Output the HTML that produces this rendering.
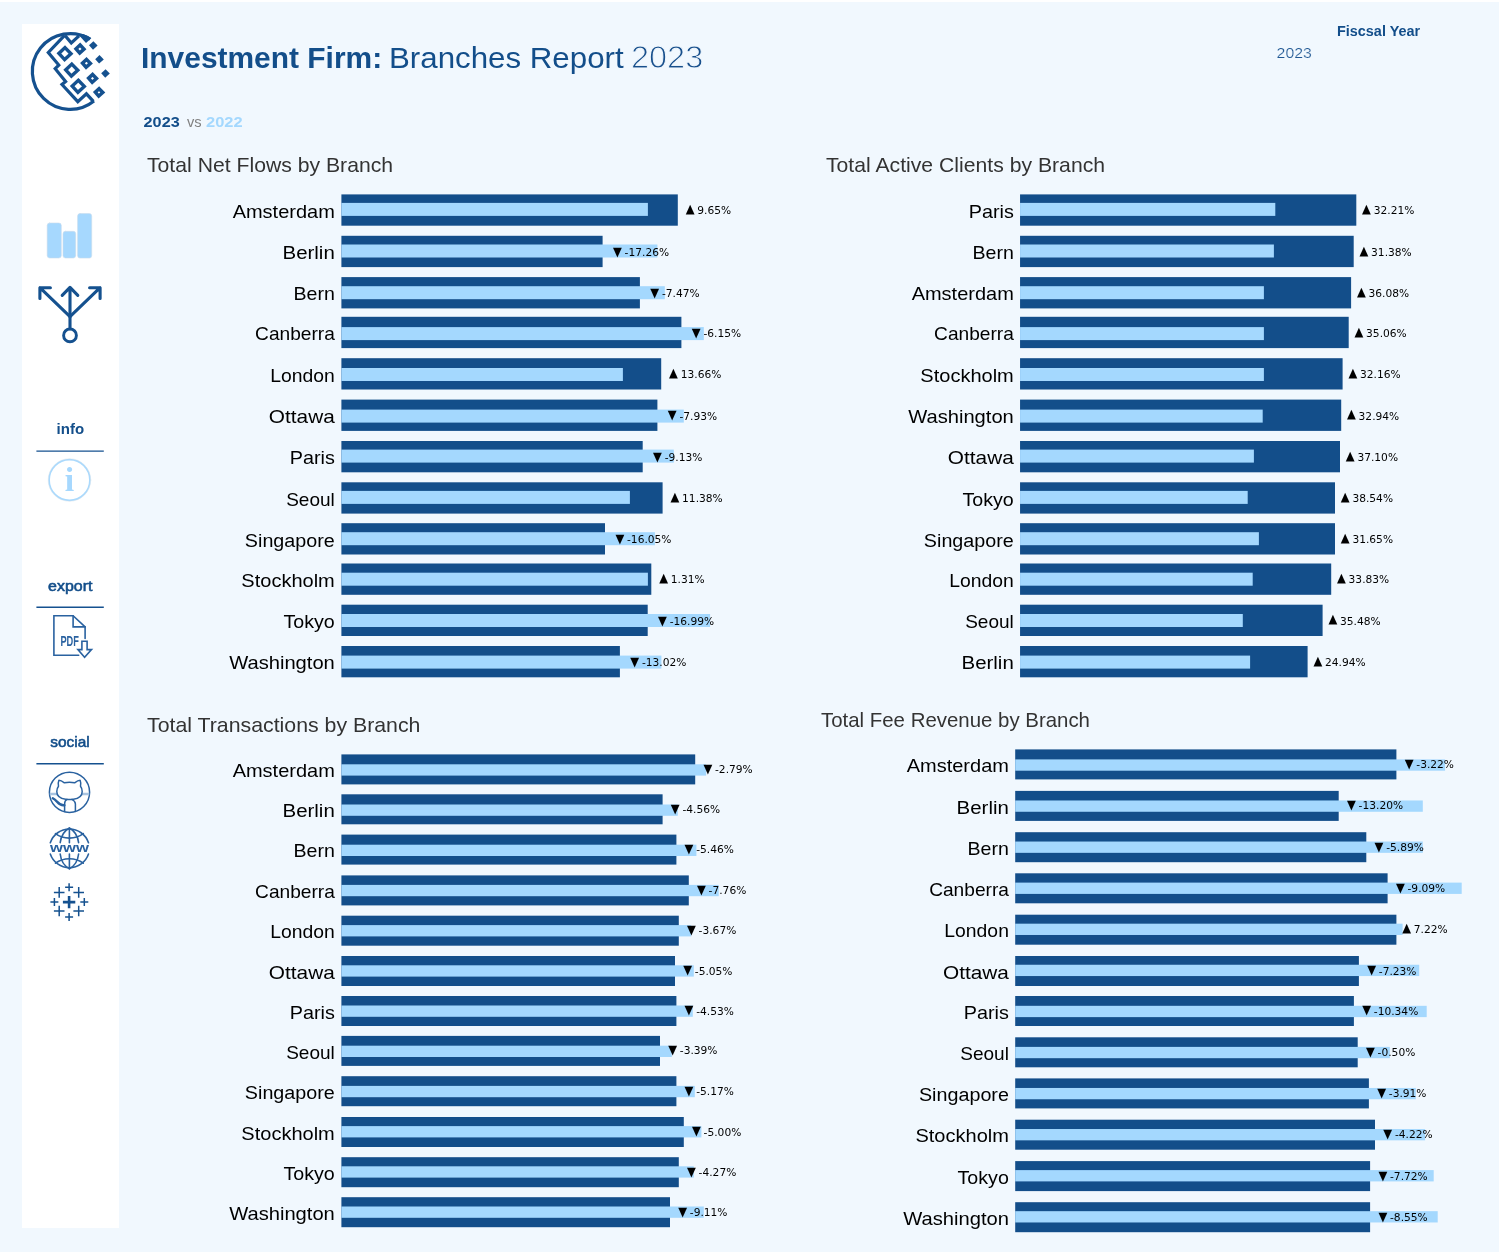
<!DOCTYPE html>
<html lang="en">
<head>
<meta charset="utf-8">
<title>Investment Firm: Branches Report 2023</title>
<style>
*{box-sizing:border-box;margin:0;padding:0}
html,body{width:1505px;height:1253px;background:#fff;overflow:hidden}
body{position:relative;font-family:"Liberation Sans",sans-serif;color:#000}
#app{position:absolute;left:0;top:2px;width:1499px;height:1250px;background:#f1f8fe}
.sidebar{position:absolute;left:21.5px;top:22.3px;width:97.5px;height:1203.5px;background:#fff}
.sidesvg{position:absolute;left:-21.5px;top:-24.3px;overflow:visible}
.slab text{font-family:"Liberation Sans",sans-serif;font-weight:700;font-size:14.2px}
.slab .sb{font-weight:400;stroke:#134e8a;stroke-width:0.55px}
.layer{position:absolute;left:0;top:-2px;overflow:visible}
.chart{position:absolute;left:0;top:0}
header{position:absolute;left:0;top:0}
.ttl{font-family:"Liberation Sans",sans-serif;font-size:20px;fill:#333}
.lab{font-family:"Liberation Sans",sans-serif;font-size:18.2px;fill:#000}
.num{font-family:"DejaVu Sans",sans-serif;font-size:10.67px;fill:#000}
.tri{font-family:"DejaVu Sans",sans-serif;font-size:11.5px;fill:#000}
.d{fill:#134e8a}
.l{fill:#a4d8fe}
.h1{font-size:29.3px;fill:#134e8a}
.b{font-weight:700}
.yr{font-size:32px;fill:#174f8c;stroke:#f1f8fe;stroke-width:0.95px}
.vs{font-size:15.3px;fill:#134e8a}
.vs.g{fill:#808080;font-weight:400}
.vs.lt{fill:#a4d8fe}
.fy{font-size:14.5px;fill:#134e8a}
.fyv{font-size:14.6px;fill:#1f5793;stroke:#f1f8fe;stroke-width:0.2px}
</style>
</head>
<body>
<div id="app">
<aside class="sidebar">
<svg class="sidesvg" width="140" height="1253" viewBox="0 0 140 1253" fill="none" stroke-linecap="round" stroke-linejoin="round">
<!-- logo -->
<g id="logo" stroke="#15518f" stroke-width="3.2" stroke-linecap="butt" stroke-linejoin="miter">
<path d="M90.11 39.22 A37.9 37.9 0 1 0 94.00 101.04"/>
<path d="M64.6 35.3 L48.3 52.5 L58.8 65.1 L55.2 68.7 L65.6 81.6 L62 84.5 L77.8 101.7 L86.4 93.8 L93.4 101.4"/>
<path d="M65 35.4 L71.3 43 L79 35.8"/>
<path d="M79.2 35.6 L86 42.9 L91.3 38.2 L88 36 L83 34 Z" fill="#15518f" stroke="none"/>
<path d="M65.0 47.6 L71.0 53.7 L64.6 59.6 L58.9 53.4 Z" stroke-width="3.4"/>
<path d="M71.8 64.1 L77.8 70.2 L71.4 76.1 L65.7 69.9 Z" stroke-width="3.4"/>
<path d="M78.3 80.3 L84.3 86.4 L77.9 92.3 L72.2 86.1 Z" stroke-width="3.4"/>
<path d="M80.1 45.0 L84.0 49.1 L79.7 53.0 L76.0 48.8 Z" stroke-width="3.45"/>
<path d="M86.5 59.4 L90.4 63.4 L86.1 67.2 L82.5 63.1 Z" stroke-width="3.45"/>
<path d="M92.6 74.5 L96.5 78.5 L92.2 82.3 L88.6 78.2 Z" stroke-width="3.45"/>
<path d="M99.1 88.7 L102.8 92.5 L98.7 96.1 L95.3 92.2 Z" stroke-width="3.45"/>
<g fill="#15518f" stroke="none">
<path d="M93.4 41.2 L97.6 45.6 L93.0 49.8 L89.0 45.3 Z"/>
<path d="M99.5 55.1 L103.8 59.5 L99.1 63.6 L95.2 59.2 Z"/>
<path d="M105.6 69.2 L109.8 73.5 L105.2 77.7 L101.2 73.2 Z"/>
</g>
</g>
<!-- bar chart icon -->
<g id="ic-bars" fill="#a6d8fe" stroke="#c9dcec" stroke-width="0.6">
<rect x="47.2" y="223" width="14.1" height="35" rx="2.4"/>
<rect x="63" y="231.3" width="12.7" height="26.7" rx="2.4"/>
<rect x="77.6" y="213.6" width="14.1" height="44.5" rx="2.4"/>
</g>
<!-- split arrows icon -->
<g id="ic-split" stroke="#15518f" stroke-width="3.1">
<path d="M70 328.6 V287.6 M62.2 295.3 L70 287.3 L77.8 295.3"/>
<path d="M70 316.6 L39.9 287.7 M50.4 287.7 H39.9 V298.4"/>
<path d="M70 316.6 L100.1 287.7 M89.6 287.7 H100.1 V298.4"/>
<circle cx="70" cy="335.4" r="6.4" stroke-width="2.9"/>
</g>
<!-- section rules -->
<g stroke="#15518f" stroke-width="1.4" stroke-linecap="butt">
<path d="M36.4 451.1 H103.8"/>
<path d="M36.4 607.3 H103.8"/>
<path d="M36.4 763.7 H103.8"/>
</g>
<!-- section labels -->
<g class="slab" stroke="none" fill="#134e8a" text-anchor="middle">
<text transform="translate(70.3,433.5) scale(1.06,1)">info</text>
<text class="sb" transform="translate(70.3,590.9) scale(1.125,1)">export</text>
<text class="sb" transform="translate(70,746.7) scale(1.085,1)">social</text>
</g>
<!-- info icon -->
<g id="ic-info">
<circle cx="69.5" cy="480" r="20.4" stroke="#a9d9fd" stroke-width="1.7"/>
<circle cx="69.5" cy="480" r="21.3" stroke="#d5dde5" stroke-width="0.4"/>
<text x="69.4" y="490.9" text-anchor="middle" fill="#a6d8fe" stroke="none" font-family="Liberation Serif, serif" font-weight="700" font-size="34">i</text>
</g>
<!-- export pdf icon -->
<g id="ic-pdf" stroke="#2a62a0" stroke-width="1.6" stroke-linejoin="miter">
<path d="M78.7 655.2 H53.9 V615.7 H73.1 L85.1 626.9 V638.4"/>
<path d="M73.1 615.7 V626.9 H85.1"/>
<path d="M81.9 641.2 H87.1 V649.6 H91.5 L84.6 657.2 L77.9 649.6 H81.9 Z" fill="#fff"/>
<text transform="translate(60.4,646) scale(0.66,1)" fill="#2a62a0" stroke="none" font-family="Liberation Sans, sans-serif" font-weight="700" font-size="14">PDF</text>
</g>
<!-- github icon -->
<g id="ic-gh" stroke="#2a62a0" stroke-width="1.5">
<circle cx="69.5" cy="792.3" r="20.1"/>
<path d="M49.8 794 H57.2 M82 794 H89.2" stroke="#a9c4e0" stroke-width="2.6" stroke-linecap="butt"/>
<path d="M58.9 780.2 C60.7 780.2 62.7 781.5 64.4 782.8 C67.6 782 71.4 782 74.6 782.8 C76.3 781.5 78.3 780.2 80.1 780.2 C81 782.5 81 784.8 80.5 786.3 C81.7 787.8 82.2 789.6 82.2 791.5 C82.2 796.9 77.6 798.7 73.4 799.2 C71 799.5 68 799.5 65.6 799.2 C61.4 798.7 56.8 796.9 56.8 791.5 C56.8 789.6 57.3 787.8 58.5 786.3 C58 784.8 58 782.5 58.9 780.2 Z" fill="#fff"/>
<path d="M64.6 811.6 V804 C64.6 801.8 65.6 800.2 67 799.4 M72 799.4 C73.4 800.2 75.4 801.8 75.4 804 V811.6"/>
<path d="M64.4 805.2 C58.6 806.3 57.8 800.8 52.8 798.2" stroke-width="2.4"/>
</g>
<!-- www globe icon -->
<g id="ic-www" stroke="#2a62a0" stroke-width="1.6">
<path d="M50.3 842.7 A20.2 20.4 0 0 1 88.5 842.7 M88.5 854 A20.2 20.4 0 0 1 50.3 854"/>
<path d="M69.4 828 V842.7 M69.4 854 V868.8"/>
<path d="M69.4 828 C64 831 60.9 836.5 60.2 842.7 M69.4 828 C74.8 831 77.9 836.5 78.6 842.7"/>
<path d="M69.4 868.8 C64 865.8 60.9 860.3 60.2 854 M69.4 868.8 C74.8 865.8 77.9 860.3 78.6 854"/>
<path d="M55.5 833.6 C63.5 839.6 75.3 839.6 83.3 833.6 M55.5 863.2 C63.5 857.2 75.3 857.2 83.3 863.2"/>
<text transform="translate(69.5,851.8) scale(1.27,1)" text-anchor="middle" fill="#2a62a0" stroke="none" font-family="Liberation Sans, sans-serif" font-weight="700" font-size="13.1">www</text>
</g>
<!-- tableau icon -->
<g id="ic-tab" stroke="#15518f" stroke-linecap="butt">
<path d="M69.1 895.9 V908.3 M62.9 902.1 H75.3" stroke-width="2.6"/>
<g stroke-width="1.5">
<path d="M69.1 883.2 V891.2 M65.1 887.2 H73.1"/>
<path d="M69.1 913 V921 M65.1 917 H73.1"/>
<path d="M54.4 898.1 V906.1 M50.4 902.1 H58.4"/>
<path d="M84.3 898.1 V906.1 M80.3 902.1 H88.3"/>
<path d="M59.2 887.1 V897.7 M53.9 892.4 H64.5"/>
<path d="M78.7 887.1 V897.7 M73.4 892.4 H84"/>
<path d="M59.2 905.7 V916.3 M53.9 911 H64.5"/>
<path d="M78.7 905.7 V916.3 M73.4 911 H84"/>
</g>
</g>
</svg>

</aside>
<header>
<svg class="layer" width="1505" height="1253" viewBox="0 0 1505 1253">
<text class="h1 b" transform="translate(141,67.9) scale(1.0220,1)">Investment Firm:</text>
<text class="h1" transform="translate(389,67.9) scale(1.0675,1)">Branches Report</text>
<text class="h1 yr" transform="translate(631,67.9) scale(1.0140,1)">2023</text>
<text class="vs b" transform="translate(143.6,127.1) scale(1.0609,1)">2023</text>
<text class="vs g" transform="translate(187,127.1) scale(0.9573,1)">vs</text>
<text class="vs b lt" transform="translate(206,127.1) scale(1.0758,1)">2022</text>
<text class="fy b" transform="translate(1337,35.7) scale(0.9950,1)">Fiscsal Year</text>
<text class="fyv" transform="translate(1276.6,57.8) scale(1.0850,1)">2023</text>
</svg>
</header>
<main>
<section class="chart" id="c1">
<svg class="layer" width="1505" height="1253" viewBox="0 0 1505 1253">
<text class="ttl" transform="translate(147,171.9) scale(1.06,1)">Total Net Flows by Branch</text>
<g class="row">
<text class="lab" text-anchor="end" transform="translate(334.8,217.75) scale(1.098,1)">Amsterdam</text>
<rect class="d" x="341.4" y="194.4" width="336.4" height="31.3"/>
<rect class="l" x="341.4" y="202.9" width="306.5" height="13"/>
<text class="tri" transform="translate(685.7,213.15) scale(1.0,1.113)">▲</text>
<text class="num" x="697.3" y="214.35">9.65%</text>
</g>
<g class="row">
<text class="lab" text-anchor="end" transform="translate(334.8,259.15) scale(1.124,1)">Berlin</text>
<rect class="d" x="341.4" y="235.8" width="261.2" height="31.3"/>
<rect class="l" x="341.4" y="244.5" width="316" height="13"/>
<text class="tri" transform="translate(613,255.65) scale(1.0,1.113)">▼</text>
<text class="num" x="624.6" y="255.75">-17.26%</text>
</g>
<g class="row">
<text class="lab" text-anchor="end" transform="translate(334.8,300.45) scale(1.076,1)">Bern</text>
<rect class="d" x="341.4" y="277.1" width="298.5" height="31.3"/>
<rect class="l" x="341.4" y="286.2" width="323.4" height="13"/>
<text class="tri" transform="translate(650.3,296.95) scale(1.0,1.113)">▼</text>
<text class="num" x="661.9" y="297.05">-7.47%</text>
</g>
<g class="row">
<text class="lab" text-anchor="end" transform="translate(334.8,340.15) scale(1.052,1)">Canberra</text>
<rect class="d" x="341.4" y="316.8" width="340" height="31.3"/>
<rect class="l" x="341.4" y="327.1" width="362.4" height="13"/>
<text class="tri" transform="translate(691.8,336.65) scale(1.0,1.113)">▼</text>
<text class="num" x="703.4" y="336.75">-6.15%</text>
</g>
<g class="row">
<text class="lab" text-anchor="end" transform="translate(334.8,381.55) scale(1.064,1)">London</text>
<rect class="d" x="341.4" y="358.2" width="319.8" height="31.3"/>
<rect class="l" x="341.4" y="368" width="281.5" height="13"/>
<text class="tri" transform="translate(669.1,376.95) scale(1.0,1.113)">▲</text>
<text class="num" x="680.7" y="378.15">13.66%</text>
</g>
<g class="row">
<text class="lab" text-anchor="end" transform="translate(334.8,422.95) scale(1.144,1)">Ottawa</text>
<rect class="d" x="341.4" y="399.6" width="316" height="31.3"/>
<rect class="l" x="341.4" y="409.6" width="342.4" height="13"/>
<text class="tri" transform="translate(667.8,419.45) scale(1.0,1.113)">▼</text>
<text class="num" x="679.4" y="419.55">-7.93%</text>
</g>
<g class="row">
<text class="lab" text-anchor="end" transform="translate(334.8,464.35) scale(1.088,1)">Paris</text>
<rect class="d" x="341.4" y="441" width="301.3" height="31.3"/>
<rect class="l" x="341.4" y="449.6" width="332.4" height="13"/>
<text class="tri" transform="translate(653.1,460.85) scale(1.0,1.113)">▼</text>
<text class="num" x="664.7" y="460.95">-9.13%</text>
</g>
<g class="row">
<text class="lab" text-anchor="end" transform="translate(334.8,505.65) scale(1.045,1)">Seoul</text>
<rect class="d" x="341.4" y="482.3" width="321.2" height="31.3"/>
<rect class="l" x="341.4" y="490.9" width="288.5" height="13"/>
<text class="tri" transform="translate(670.5,501.05) scale(1.0,1.113)">▲</text>
<text class="num" x="682.1" y="502.25">11.38%</text>
</g>
<g class="row">
<text class="lab" text-anchor="end" transform="translate(334.8,546.55) scale(1.085,1)">Singapore</text>
<rect class="d" x="341.4" y="523.2" width="263.6" height="31.3"/>
<rect class="l" x="341.4" y="532.2" width="313.5" height="13"/>
<text class="tri" transform="translate(615.4,543.05) scale(1.0,1.113)">▼</text>
<text class="num" x="627" y="543.15">-16.05%</text>
</g>
<g class="row">
<text class="lab" text-anchor="end" transform="translate(334.8,586.85) scale(1.1,1)">Stockholm</text>
<rect class="d" x="341.4" y="563.5" width="309.9" height="31.3"/>
<rect class="l" x="341.4" y="572.7" width="306.5" height="13"/>
<text class="tri" transform="translate(659.2,582.25) scale(1.0,1.113)">▲</text>
<text class="num" x="670.8" y="583.45">1.31%</text>
</g>
<g class="row">
<text class="lab" text-anchor="end" transform="translate(334.8,628.05) scale(1.081,1)">Tokyo</text>
<rect class="d" x="341.4" y="604.7" width="306.3" height="31.3"/>
<rect class="l" x="341.4" y="614" width="368.7" height="13"/>
<text class="tri" transform="translate(658.1,624.55) scale(1.0,1.113)">▼</text>
<text class="num" x="669.7" y="624.65">-16.99%</text>
</g>
<g class="row">
<text class="lab" text-anchor="end" transform="translate(334.8,669.35) scale(1.108,1)">Washington</text>
<rect class="d" x="341.4" y="646" width="278.5" height="31.3"/>
<rect class="l" x="341.4" y="655.6" width="320" height="13"/>
<text class="tri" transform="translate(630.3,665.85) scale(1.0,1.113)">▼</text>
<text class="num" x="641.9" y="665.95">-13.02%</text>
</g>
</svg></section>
<section class="chart" id="c2">
<svg class="layer" width="1505" height="1253" viewBox="0 0 1505 1253">
<text class="ttl" transform="translate(826,171.9) scale(1.06,1)">Total Active Clients by Branch</text>
<g class="row">
<text class="lab" text-anchor="end" transform="translate(1013.8,217.75) scale(1.088,1)">Paris</text>
<rect class="d" x="1020.05" y="194.4" width="336.25" height="31.3"/>
<rect class="l" x="1020.05" y="202.9" width="255.25" height="13"/>
<text class="tri" transform="translate(1362.1,213.15) scale(1.0,1.113)">▲</text>
<text class="num" x="1373.7" y="214.35">32.21%</text>
</g>
<g class="row">
<text class="lab" text-anchor="end" transform="translate(1013.8,259.15) scale(1.076,1)">Bern</text>
<rect class="d" x="1020.05" y="235.8" width="333.65" height="31.3"/>
<rect class="l" x="1020.05" y="244.5" width="253.85" height="13"/>
<text class="tri" transform="translate(1359.5,254.55) scale(1.0,1.113)">▲</text>
<text class="num" x="1371.1" y="255.75">31.38%</text>
</g>
<g class="row">
<text class="lab" text-anchor="end" transform="translate(1013.8,300.45) scale(1.098,1)">Amsterdam</text>
<rect class="d" x="1020.05" y="277.1" width="331.05" height="31.3"/>
<rect class="l" x="1020.05" y="286.2" width="243.85" height="13"/>
<text class="tri" transform="translate(1356.9,295.85) scale(1.0,1.113)">▲</text>
<text class="num" x="1368.5" y="297.05">36.08%</text>
</g>
<g class="row">
<text class="lab" text-anchor="end" transform="translate(1013.8,340.15) scale(1.052,1)">Canberra</text>
<rect class="d" x="1020.05" y="316.8" width="328.65" height="31.3"/>
<rect class="l" x="1020.05" y="327.1" width="243.85" height="13"/>
<text class="tri" transform="translate(1354.5,335.55) scale(1.0,1.113)">▲</text>
<text class="num" x="1366.1" y="336.75">35.06%</text>
</g>
<g class="row">
<text class="lab" text-anchor="end" transform="translate(1013.8,381.55) scale(1.1,1)">Stockholm</text>
<rect class="d" x="1020.05" y="358.2" width="322.55" height="31.3"/>
<rect class="l" x="1020.05" y="368" width="243.85" height="13"/>
<text class="tri" transform="translate(1348.4,376.95) scale(1.0,1.113)">▲</text>
<text class="num" x="1360" y="378.15">32.16%</text>
</g>
<g class="row">
<text class="lab" text-anchor="end" transform="translate(1013.8,422.95) scale(1.108,1)">Washington</text>
<rect class="d" x="1020.05" y="399.6" width="321.15" height="31.3"/>
<rect class="l" x="1020.05" y="409.6" width="242.65" height="13"/>
<text class="tri" transform="translate(1347,418.35) scale(1.0,1.113)">▲</text>
<text class="num" x="1358.6" y="419.55">32.94%</text>
</g>
<g class="row">
<text class="lab" text-anchor="end" transform="translate(1013.8,464.35) scale(1.144,1)">Ottawa</text>
<rect class="d" x="1020.05" y="441" width="319.95" height="31.3"/>
<rect class="l" x="1020.05" y="449.6" width="233.85" height="13"/>
<text class="tri" transform="translate(1345.8,459.75) scale(1.0,1.113)">▲</text>
<text class="num" x="1357.4" y="460.95">37.10%</text>
</g>
<g class="row">
<text class="lab" text-anchor="end" transform="translate(1013.8,505.65) scale(1.081,1)">Tokyo</text>
<rect class="d" x="1020.05" y="482.3" width="314.95" height="31.3"/>
<rect class="l" x="1020.05" y="490.9" width="227.65" height="13"/>
<text class="tri" transform="translate(1340.8,501.05) scale(1.0,1.113)">▲</text>
<text class="num" x="1352.4" y="502.25">38.54%</text>
</g>
<g class="row">
<text class="lab" text-anchor="end" transform="translate(1013.8,546.55) scale(1.085,1)">Singapore</text>
<rect class="d" x="1020.05" y="523.2" width="314.95" height="31.3"/>
<rect class="l" x="1020.05" y="532.2" width="238.85" height="13"/>
<text class="tri" transform="translate(1340.8,541.95) scale(1.0,1.113)">▲</text>
<text class="num" x="1352.4" y="543.15">31.65%</text>
</g>
<g class="row">
<text class="lab" text-anchor="end" transform="translate(1013.8,586.85) scale(1.064,1)">London</text>
<rect class="d" x="1020.05" y="563.5" width="311.15" height="31.3"/>
<rect class="l" x="1020.05" y="572.7" width="232.65" height="13"/>
<text class="tri" transform="translate(1337,582.25) scale(1.0,1.113)">▲</text>
<text class="num" x="1348.6" y="583.45">33.83%</text>
</g>
<g class="row">
<text class="lab" text-anchor="end" transform="translate(1013.8,628.05) scale(1.045,1)">Seoul</text>
<rect class="d" x="1020.05" y="604.7" width="302.55" height="31.3"/>
<rect class="l" x="1020.05" y="614" width="222.75" height="13"/>
<text class="tri" transform="translate(1328.4,623.45) scale(1.0,1.113)">▲</text>
<text class="num" x="1340" y="624.65">35.48%</text>
</g>
<g class="row">
<text class="lab" text-anchor="end" transform="translate(1013.8,669.35) scale(1.124,1)">Berlin</text>
<rect class="d" x="1020.05" y="646" width="287.55" height="31.3"/>
<rect class="l" x="1020.05" y="655.6" width="230.05" height="13"/>
<text class="tri" transform="translate(1313.4,664.75) scale(1.0,1.113)">▲</text>
<text class="num" x="1325" y="665.95">24.94%</text>
</g>
</svg></section>
<section class="chart" id="c3">
<svg class="layer" width="1505" height="1253" viewBox="0 0 1505 1253">
<text class="ttl" transform="translate(147,731.9) scale(1.065,1)">Total Transactions by Branch</text>
<g class="row">
<text class="lab" text-anchor="end" transform="translate(334.8,777.1) scale(1.098,1)">Amsterdam</text>
<rect class="d" x="341.4" y="754.4" width="353.8" height="30"/>
<rect class="l" x="341.4" y="764.3" width="364.7" height="11.3"/>
<text class="tri" transform="translate(703.4,772.8) scale(1.0,1.113)">▼</text>
<text class="num" x="715" y="772.9">-2.79%</text>
</g>
<g class="row">
<text class="lab" text-anchor="end" transform="translate(334.8,817) scale(1.124,1)">Berlin</text>
<rect class="d" x="341.4" y="794.3" width="321.2" height="30"/>
<rect class="l" x="341.4" y="804.5" width="336.4" height="11.3"/>
<text class="tri" transform="translate(670.8,812.7) scale(1.0,1.113)">▼</text>
<text class="num" x="682.4" y="812.8">-4.56%</text>
</g>
<g class="row">
<text class="lab" text-anchor="end" transform="translate(334.8,857.3) scale(1.076,1)">Bern</text>
<rect class="d" x="341.4" y="834.6" width="335" height="30"/>
<rect class="l" x="341.4" y="844.7" width="355" height="11.3"/>
<text class="tri" transform="translate(684.6,853) scale(1.0,1.113)">▼</text>
<text class="num" x="696.2" y="853.1">-5.46%</text>
</g>
<g class="row">
<text class="lab" text-anchor="end" transform="translate(334.8,898.1) scale(1.052,1)">Canberra</text>
<rect class="d" x="341.4" y="875.4" width="347.4" height="30"/>
<rect class="l" x="341.4" y="884.9" width="377.3" height="11.3"/>
<text class="tri" transform="translate(697,893.8) scale(1.0,1.113)">▼</text>
<text class="num" x="708.6" y="893.9">-7.76%</text>
</g>
<g class="row">
<text class="lab" text-anchor="end" transform="translate(334.8,938.4) scale(1.064,1)">London</text>
<rect class="d" x="341.4" y="915.7" width="337.4" height="30"/>
<rect class="l" x="341.4" y="925.1" width="349.8" height="11.3"/>
<text class="tri" transform="translate(687,934.1) scale(1.0,1.113)">▼</text>
<text class="num" x="698.6" y="934.2">-3.67%</text>
</g>
<g class="row">
<text class="lab" text-anchor="end" transform="translate(334.8,978.7) scale(1.144,1)">Ottawa</text>
<rect class="d" x="341.4" y="956" width="333.6" height="30"/>
<rect class="l" x="341.4" y="965.3" width="352.4" height="11.3"/>
<text class="tri" transform="translate(683.2,974.4) scale(1.0,1.113)">▼</text>
<text class="num" x="694.8" y="974.5">-5.05%</text>
</g>
<g class="row">
<text class="lab" text-anchor="end" transform="translate(334.8,1018.7) scale(1.088,1)">Paris</text>
<rect class="d" x="341.4" y="996" width="335" height="30"/>
<rect class="l" x="341.4" y="1005.5" width="351.4" height="11.3"/>
<text class="tri" transform="translate(684.6,1014.4) scale(1.0,1.113)">▼</text>
<text class="num" x="696.2" y="1014.5">-4.53%</text>
</g>
<g class="row">
<text class="lab" text-anchor="end" transform="translate(334.8,1058.6) scale(1.045,1)">Seoul</text>
<rect class="d" x="341.4" y="1035.9" width="318.6" height="30"/>
<rect class="l" x="341.4" y="1045.7" width="330.4" height="11.3"/>
<text class="tri" transform="translate(668.2,1054.3) scale(1.0,1.113)">▼</text>
<text class="num" x="679.8" y="1054.4">-3.39%</text>
</g>
<g class="row">
<text class="lab" text-anchor="end" transform="translate(334.8,1098.9) scale(1.085,1)">Singapore</text>
<rect class="d" x="341.4" y="1076.2" width="335" height="30"/>
<rect class="l" x="341.4" y="1085.9" width="353.4" height="11.3"/>
<text class="tri" transform="translate(684.6,1094.6) scale(1.0,1.113)">▼</text>
<text class="num" x="696.2" y="1094.7">-5.17%</text>
</g>
<g class="row">
<text class="lab" text-anchor="end" transform="translate(334.8,1139.7) scale(1.1,1)">Stockholm</text>
<rect class="d" x="341.4" y="1117" width="342.4" height="30"/>
<rect class="l" x="341.4" y="1126.1" width="360" height="11.3"/>
<text class="tri" transform="translate(692,1135.4) scale(1.0,1.113)">▼</text>
<text class="num" x="703.6" y="1135.5">-5.00%</text>
</g>
<g class="row">
<text class="lab" text-anchor="end" transform="translate(334.8,1179.9) scale(1.081,1)">Tokyo</text>
<rect class="d" x="341.4" y="1157.2" width="337.4" height="30"/>
<rect class="l" x="341.4" y="1166.3" width="352.4" height="11.3"/>
<text class="tri" transform="translate(687,1175.6) scale(1.0,1.113)">▼</text>
<text class="num" x="698.6" y="1175.7">-4.27%</text>
</g>
<g class="row">
<text class="lab" text-anchor="end" transform="translate(334.8,1219.9) scale(1.108,1)">Washington</text>
<rect class="d" x="341.4" y="1197.2" width="328.6" height="30"/>
<rect class="l" x="341.4" y="1206.5" width="362.4" height="11.3"/>
<text class="tri" transform="translate(678.2,1215.6) scale(1.0,1.113)">▼</text>
<text class="num" x="689.8" y="1215.7">-9.11%</text>
</g>
</svg></section>
<section class="chart" id="c4">
<svg class="layer" width="1505" height="1253" viewBox="0 0 1505 1253">
<text class="ttl" transform="translate(821,726.9) scale(1.0215,1)">Total Fee Revenue by Branch</text>
<g class="row">
<text class="lab" text-anchor="end" transform="translate(1008.9,772.1) scale(1.098,1)">Amsterdam</text>
<rect class="d" x="1015.2" y="749.4" width="381.2" height="30"/>
<rect class="l" x="1015.2" y="759.4" width="429.9" height="11.3"/>
<text class="tri" transform="translate(1404.7,767.85) scale(1.0,1.113)">▼</text>
<text class="num" x="1416.3" y="767.95">-3.22%</text>
</g>
<g class="row">
<text class="lab" text-anchor="end" transform="translate(1008.9,813.6) scale(1.124,1)">Berlin</text>
<rect class="d" x="1015.2" y="790.9" width="323.5" height="30"/>
<rect class="l" x="1015.2" y="800.47" width="407.6" height="11.3"/>
<text class="tri" transform="translate(1347,809.35) scale(1.0,1.113)">▼</text>
<text class="num" x="1358.6" y="809.45">-13.20%</text>
</g>
<g class="row">
<text class="lab" text-anchor="end" transform="translate(1008.9,854.9) scale(1.076,1)">Bern</text>
<rect class="d" x="1015.2" y="832.2" width="351.1" height="30"/>
<rect class="l" x="1015.2" y="841.54" width="407.6" height="11.3"/>
<text class="tri" transform="translate(1374.6,850.65) scale(1.0,1.113)">▼</text>
<text class="num" x="1386.2" y="850.75">-5.89%</text>
</g>
<g class="row">
<text class="lab" text-anchor="end" transform="translate(1008.9,896) scale(1.052,1)">Canberra</text>
<rect class="d" x="1015.2" y="873.3" width="372.4" height="30"/>
<rect class="l" x="1015.2" y="882.61" width="446.5" height="11.3"/>
<text class="tri" transform="translate(1395.9,891.75) scale(1.0,1.113)">▼</text>
<text class="num" x="1407.5" y="891.85">-9.09%</text>
</g>
<g class="row">
<text class="lab" text-anchor="end" transform="translate(1008.9,937.4) scale(1.064,1)">London</text>
<rect class="d" x="1015.2" y="914.7" width="381.2" height="30"/>
<rect class="l" x="1015.2" y="923.68" width="387.4" height="11.3"/>
<text class="tri" transform="translate(1402.2,932.05) scale(1.0,1.113)">▲</text>
<text class="num" x="1413.8" y="933.25">7.22%</text>
</g>
<g class="row">
<text class="lab" text-anchor="end" transform="translate(1008.9,978.7) scale(1.144,1)">Ottawa</text>
<rect class="d" x="1015.2" y="956" width="343.7" height="30"/>
<rect class="l" x="1015.2" y="964.75" width="404" height="11.3"/>
<text class="tri" transform="translate(1367.2,974.45) scale(1.0,1.113)">▼</text>
<text class="num" x="1378.8" y="974.55">-7.23%</text>
</g>
<g class="row">
<text class="lab" text-anchor="end" transform="translate(1008.9,1018.7) scale(1.088,1)">Paris</text>
<rect class="d" x="1015.2" y="996" width="338.7" height="30"/>
<rect class="l" x="1015.2" y="1005.82" width="411.5" height="11.3"/>
<text class="tri" transform="translate(1362.2,1014.45) scale(1.0,1.113)">▼</text>
<text class="num" x="1373.8" y="1014.55">-10.34%</text>
</g>
<g class="row">
<text class="lab" text-anchor="end" transform="translate(1008.9,1060) scale(1.045,1)">Seoul</text>
<rect class="d" x="1015.2" y="1037.3" width="342.5" height="30"/>
<rect class="l" x="1015.2" y="1046.89" width="374.6" height="11.3"/>
<text class="tri" transform="translate(1366,1055.75) scale(1.0,1.113)">▼</text>
<text class="num" x="1377.6" y="1055.85">-0.50%</text>
</g>
<g class="row">
<text class="lab" text-anchor="end" transform="translate(1008.9,1101.1) scale(1.085,1)">Singapore</text>
<rect class="d" x="1015.2" y="1078.4" width="353.7" height="30"/>
<rect class="l" x="1015.2" y="1087.96" width="400.6" height="11.3"/>
<text class="tri" transform="translate(1377.2,1096.85) scale(1.0,1.113)">▼</text>
<text class="num" x="1388.8" y="1096.95">-3.91%</text>
</g>
<g class="row">
<text class="lab" text-anchor="end" transform="translate(1008.9,1142.4) scale(1.1,1)">Stockholm</text>
<rect class="d" x="1015.2" y="1119.7" width="359.8" height="30"/>
<rect class="l" x="1015.2" y="1129.03" width="409.9" height="11.3"/>
<text class="tri" transform="translate(1383.3,1138.15) scale(1.0,1.113)">▼</text>
<text class="num" x="1394.9" y="1138.25">-4.22%</text>
</g>
<g class="row">
<text class="lab" text-anchor="end" transform="translate(1008.9,1183.8) scale(1.081,1)">Tokyo</text>
<rect class="d" x="1015.2" y="1161.1" width="354.9" height="30"/>
<rect class="l" x="1015.2" y="1170.1" width="418.5" height="11.3"/>
<text class="tri" transform="translate(1378.4,1179.55) scale(1.0,1.113)">▼</text>
<text class="num" x="1390" y="1179.65">-7.72%</text>
</g>
<g class="row">
<text class="lab" text-anchor="end" transform="translate(1008.9,1224.9) scale(1.108,1)">Washington</text>
<rect class="d" x="1015.2" y="1202.2" width="354.9" height="30"/>
<rect class="l" x="1015.2" y="1211.17" width="422.5" height="11.3"/>
<text class="tri" transform="translate(1378.4,1220.65) scale(1.0,1.113)">▼</text>
<text class="num" x="1390" y="1220.75">-8.55%</text>
</g>
</svg></section>
</main>
</div>
</body>
</html>
